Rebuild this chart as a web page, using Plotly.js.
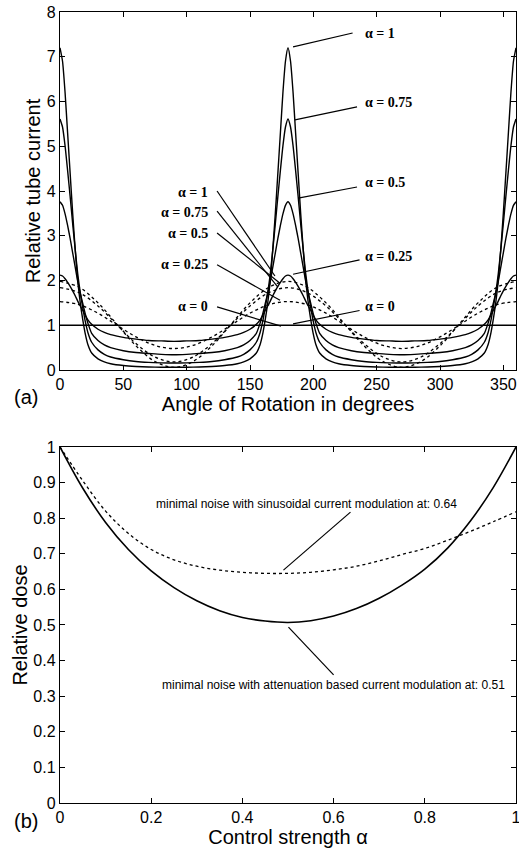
<!DOCTYPE html>
<html>
<head>
<meta charset="utf-8">
<script src="https://cdn.plot.ly/plotly-3.0.1.min.js"></script>
<style>html,body{margin:0;padding:0;background:#fff;}#plot{width:519px;height:848px;}</style>
</head>
<body>
<div id="plot"></div>
<script>
// ---- (a) Relative tube current vs angle ----
var angle = [0,2,4,6,8,10,12,14,16,18,20,22,25,30,35,40,50,60,70,80,90,
  100,110,120,130,140,145,150,155,158,160,162,164,166,168,170,172,174,176,178,180,
  182,184,186,188,190,192,194,196,198,200,202,205,210,215,220,230,240,250,260,270,
  280,290,300,310,320,325,330,335,338,340,342,344,346,348,350,352,354,356,358,360];

var cur_a1 = [7.2,6.9,6.2,5.3,4.4,3.5,2.7,2.0,1.5,1.12,0.80,0.57,0.38,0.25,0.18,0.14,0.10,0.08,0.068,0.062,0.06,
  0.062,0.068,0.08,0.10,0.14,0.18,0.25,0.38,0.57,0.80,1.12,1.5,2.0,2.7,3.5,4.4,5.3,6.2,6.9,7.2,
  6.9,6.2,5.3,4.4,3.5,2.7,2.0,1.5,1.12,0.80,0.57,0.38,0.25,0.18,0.14,0.10,0.08,0.068,0.062,0.06,
  0.062,0.068,0.08,0.10,0.14,0.18,0.25,0.38,0.57,0.80,1.12,1.5,2.0,2.7,3.5,4.4,5.3,6.2,6.9,7.2];

var cur_a075 = [5.61,5.43,5.01,4.46,3.88,3.27,2.69,2.15,1.73,1.39,1.08,0.84,0.62,0.45,0.35,0.29,0.23,0.19,0.17,0.16,0.155,
  0.16,0.17,0.19,0.23,0.29,0.35,0.45,0.62,0.84,1.08,1.39,1.73,2.15,2.69,3.27,3.88,4.46,5.01,5.43,5.61,
  5.43,5.01,4.46,3.88,3.27,2.69,2.15,1.73,1.39,1.08,0.84,0.62,0.45,0.35,0.29,0.23,0.19,0.17,0.16,0.155,
  0.16,0.17,0.19,0.23,0.29,0.35,0.45,0.62,0.84,1.08,1.39,1.73,2.15,2.69,3.27,3.88,4.46,5.01,5.43,5.61];

var cur_a05 = [3.76,3.68,3.49,3.23,2.94,2.62,2.30,1.98,1.72,1.48,1.25,1.05,0.82,0.66,0.56,0.50,0.43,0.39,0.37,0.35,0.34,
  0.35,0.37,0.39,0.43,0.50,0.56,0.66,0.82,1.05,1.25,1.48,1.72,1.98,2.30,2.62,2.94,3.23,3.49,3.68,3.76,
  3.68,3.49,3.23,2.94,2.62,2.30,1.98,1.72,1.48,1.25,1.05,0.82,0.66,0.56,0.50,0.43,0.39,0.37,0.35,0.34,
  0.35,0.37,0.39,0.43,0.50,0.56,0.66,0.82,1.05,1.25,1.48,1.72,1.98,2.30,2.62,2.94,3.23,3.49,3.68,3.76];

var cur_a025 = [2.12,2.10,2.04,1.96,1.87,1.77,1.66,1.54,1.43,1.33,1.22,1.12,1.02,0.91,0.84,0.79,0.73,0.69,0.66,0.65,0.64,
  0.65,0.66,0.69,0.73,0.79,0.84,0.91,1.02,1.12,1.22,1.33,1.43,1.54,1.66,1.77,1.87,1.96,2.04,2.10,2.12,
  2.10,2.04,1.96,1.87,1.77,1.66,1.54,1.43,1.33,1.22,1.12,1.02,0.91,0.84,0.79,0.73,0.69,0.66,0.65,0.64,
  0.65,0.66,0.69,0.73,0.79,0.84,0.91,1.02,1.12,1.22,1.33,1.43,1.54,1.66,1.77,1.87,1.96,2.04,2.10,2.12];

var angle0 = [0, 360];
var cur_a0 = [1, 1];

// sinusoidal modulation (dotted)
var angleSin = [0,15,30,45,60,75,90,105,120,135,150,165,180,195,210,225,240,255,270,285,300,315,330,345,360];
var sin_1 = [1.98,1.85,1.50,1.02,0.54,0.19,0.06,0.19,0.54,1.02,1.50,1.85,1.98,1.85,1.50,1.02,0.54,0.19,0.06,0.19,0.54,1.02,1.50,1.85,1.98];
var sin_2 = [1.84,1.73,1.43,1.01,0.59,0.29,0.18,0.29,0.59,1.01,1.43,1.73,1.84,1.73,1.43,1.01,0.59,0.29,0.18,0.29,0.59,1.01,1.43,1.73,1.84];
var sin_3 = [1.53,1.46,1.27,1.00,0.74,0.55,0.48,0.55,0.74,1.00,1.27,1.46,1.53,1.46,1.27,1.00,0.74,0.55,0.48,0.55,0.74,1.00,1.27,1.46,1.53];

// ---- (b) Relative dose vs control strength ----
var alphaGrid = [0,0.05,0.1,0.15,0.2,0.25,0.3,0.35,0.4,0.45,0.5,0.55,0.6,0.65,0.7,0.75,0.8,0.85,0.9,0.95,1.0];
var doseAtt = [1.0,0.884,0.788,0.712,0.652,0.605,0.568,0.540,0.521,0.511,0.507,0.512,0.525,0.546,0.575,0.612,0.657,0.716,0.792,0.886,1.0];
var doseSin = [1.0,0.905,0.82,0.757,0.712,0.683,0.665,0.654,0.648,0.645,0.645,0.648,0.655,0.665,0.68,0.698,0.715,0.738,0.763,0.79,0.818];

var labelsA = ['α = 1','α = 0.75','α = 0.5','α = 0.25','α = 0'];

var solid = {color:'#000', width:1.4, shape:'spline', smoothing:0.6};
var dotted = {color:'#000', width:1.3, dash:'dot', shape:'spline', smoothing:1};

var traces = [
  {x:angle, y:cur_a1, mode:'lines', line:solid, xaxis:'x', yaxis:'y'},
  {x:angle, y:cur_a075, mode:'lines', line:solid, xaxis:'x', yaxis:'y'},
  {x:angle, y:cur_a05, mode:'lines', line:solid, xaxis:'x', yaxis:'y'},
  {x:angle, y:cur_a025, mode:'lines', line:solid, xaxis:'x', yaxis:'y'},
  {x:angle0, y:cur_a0, mode:'lines', line:{color:'#000', width:1.4}, xaxis:'x', yaxis:'y'},
  {x:angleSin, y:sin_1, mode:'lines', line:dotted, xaxis:'x', yaxis:'y'},
  {x:angleSin, y:sin_2, mode:'lines', line:dotted, xaxis:'x', yaxis:'y'},
  {x:angleSin, y:sin_3, mode:'lines', line:dotted, xaxis:'x', yaxis:'y'},
  {x:alphaGrid, y:doseAtt, mode:'lines', line:{color:'#000', width:1.6, shape:'spline'}, xaxis:'x2', yaxis:'y2'},
  {x:alphaGrid, y:doseSin, mode:'lines', line:{color:'#000', width:1.3, dash:'dot', shape:'spline'}, xaxis:'x2', yaxis:'y2'}
];

var tickFont = {family:'Liberation Sans, Arial, sans-serif', size:16, color:'#000'};
var titleFont = {family:'Liberation Sans, Arial, sans-serif', size:20, color:'#000'};
function ax(extra){
  var base = {showgrid:false, zeroline:false, showline:true, linecolor:'#000', linewidth:1.2,
    mirror:'ticks', ticks:'inside', ticklen:5, tickcolor:'#000', tickfont:tickFont, automargin:false,
    ticklabeloverflow:'allow'};
  for (var k in extra) base[k]=extra[k];
  return base;
}

var serif = {family:'Liberation Serif, Times New Roman, serif', size:14, color:'#000', weight:'bold'};
var ann = [];
var shapes = [];
// right-side labels (solid curves)
var rightTextY = [7.53, 5.97, 4.18, 2.53, 1.41];
var rightStart = [[184,7.22],[185.5,5.59],[188,3.84],[184,2.14],[184,1.03]];
var rightEnd = [[231,7.53],[234.5,5.88],[234.5,4.09],[236.5,2.46],[236.5,1.33]];
// left-side labels (sinusoidal curves)
var leftTextY = [3.96, 3.53, 3.06, 2.35, 1.41];
var leftStart = [[124,4.0],[124,3.55],[124,3.06],[124,2.35],[124,1.41]];
var leftEnd = [[169.7,2.1],[172,1.85],[173.7,1.94],[173.7,1.56],[174.5,0.98]];
for (var i=0;i<labelsA.length;i++){
  ann.push({xref:'x', yref:'y', x:239, y:rightTextY[i], text:labelsA[i], showarrow:false, xanchor:'left', yanchor:'middle', font:serif});
  ann.push({xref:'x', yref:'y', x:118.5, y:leftTextY[i], text:labelsA[i], showarrow:false, xanchor:'right', yanchor:'middle', font:serif});
  shapes.push({type:'line', xref:'x', yref:'y', x0:rightStart[i][0], y0:rightStart[i][1], x1:rightEnd[i][0], y1:rightEnd[i][1], line:{color:'#000', width:1.2}});
  shapes.push({type:'line', xref:'x', yref:'y', x0:leftStart[i][0], y0:leftStart[i][1], x1:leftEnd[i][0], y1:leftEnd[i][1], line:{color:'#000', width:1.2}});
}
var smallFont = {family:'Liberation Sans, Arial, sans-serif', size:12, color:'#000'};
ann.push({xref:'x2', yref:'y2', x:0.541, y:0.84, text:'minimal noise with sinusoidal current modulation at: 0.64', showarrow:false, font:smallFont});
ann.push({xref:'x2', yref:'y2', x:0.599, y:0.331, text:'minimal noise with attenuation based current modulation at: 0.51', showarrow:false, font:smallFont});
shapes.push({type:'line', xref:'x2', yref:'y2', x0:0.49, y0:0.654, x1:0.637, y1:0.817, line:{color:'#000', width:1.2}});
shapes.push({type:'line', xref:'x2', yref:'y2', x0:0.501, y0:0.494, x1:0.60, y1:0.36, line:{color:'#000', width:1.2}});
ann.push({xref:'paper', yref:'paper', x:-0.105, y:0.513, text:'(a)', showarrow:false, xanchor:'left', yanchor:'middle', font:titleFont});
ann.push({xref:'paper', yref:'paper', x:-0.105, y:-0.0228, text:'(b)', showarrow:false, xanchor:'left', yanchor:'middle', font:titleFont});

var layout = {
  width:519, height:848,
  margin:{l:60, r:3, t:12, b:45},
  paper_bgcolor:'#fff', plot_bgcolor:'#fff',
  showlegend:false,
  font:{family:'Liberation Sans, Arial, sans-serif', color:'#000'},
  xaxis: ax({domain:[0,1], range:[0,360], dtick:50, tick0:0, anchor:'y',
    title:{text:'Angle of Rotation in degrees', font:titleFont, standoff:0}}),
  yaxis: ax({domain:[0.5474,1], range:[0,8], dtick:1, tick0:0, anchor:'x',
    title:{text:'Relative tube current', font:titleFont, standoff:0}}),
  xaxis2: ax({domain:[0,1], range:[0,1], dtick:0.2, tick0:0, anchor:'y2',
    title:{text:'Control strength α', font:titleFont, standoff:2}}),
  yaxis2: ax({domain:[0,0.4501], range:[0,1], dtick:0.1, tick0:0, anchor:'x2',
    title:{text:'Relative dose', font:titleFont, standoff:0}}),
  annotations: ann,
  shapes: shapes
};

Plotly.newPlot('plot', traces, layout, {staticPlot:true, displayModeBar:false});
</script>
</body>
</html>
